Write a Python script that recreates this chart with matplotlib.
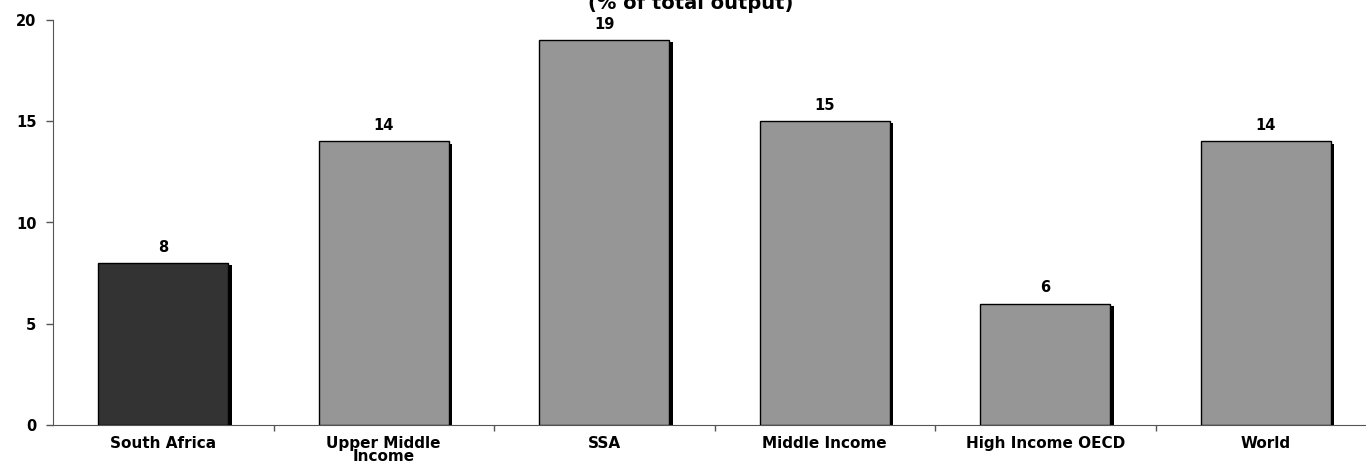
import matplotlib
matplotlib.use("Agg")
import matplotlib.pyplot as plt
import matplotlib.patheffects as pe

categories = ["South Africa", "Upper Middle\nIncome", "SSA", "Middle Income",
              "High Income OECD", "World"]
values = [8, 14, 19, 15, 6, 14]
colors = ["#333333", "#969696", "#969696", "#969696", "#969696", "#969696"]
title = "(% of total output)"

plt.rcParams['font.family'] = ['DejaVu Sans']
plt.rcParams['font.weight'] = 'bold'

fig = plt.figure(figsize=(13.66, 4.61), dpi=100)
# axes run a little past the right edge like the original
ax = fig.add_axes([53 / 1366, 1 - 425 / 461, 1323 / 1366, 405 / 461])

x = list(range(len(categories)))
bars = ax.bar(x, values, width=0.59, color=colors, edgecolor="black", linewidth=1.0,
              zorder=3)
for b in bars:
    b.set_path_effects([pe.SimplePatchShadow(offset=(2.5, -1.5), shadow_rgbFace="black",
                                             alpha=1.0), pe.Normal()])

for xi, v in zip(x, values):
    ax.annotate(str(v), (xi, v), xytext=(0, 6), textcoords="offset points",
                ha="center", va="bottom", fontsize=10.5, fontweight="bold")

ax.set_xlim(-0.5, len(categories) - 0.5)
ax.set_ylim(0, 20)
ax.set_yticks([0, 5, 10, 15, 20])
ax.tick_params(axis="y", direction="out", length=5, width=1, colors="#555555",
               labelcolor="black", labelsize=10.5, pad=7)

ax.set_xticks(x)
ax.set_xticklabels(categories, fontsize=11, fontweight="bold", linespacing=0.85)
ax.tick_params(axis="x", length=0, pad=8)
ax.set_xticks([i + 0.5 for i in range(len(categories) - 1)], minor=True)
ax.tick_params(axis="x", which="minor", direction="out", length=4, width=1,
               color="#555555")

for s in ["top", "right"]:
    ax.spines[s].set_visible(False)
ax.spines["left"].set_color("#555555")
ax.spines["bottom"].set_color("#555555")

fig.text(691 / 1366, 1 - 9 / 461, title, ha="center", va="baseline", fontsize=14,
         fontweight="bold")

fig.savefig("out.png", dpi=100)
